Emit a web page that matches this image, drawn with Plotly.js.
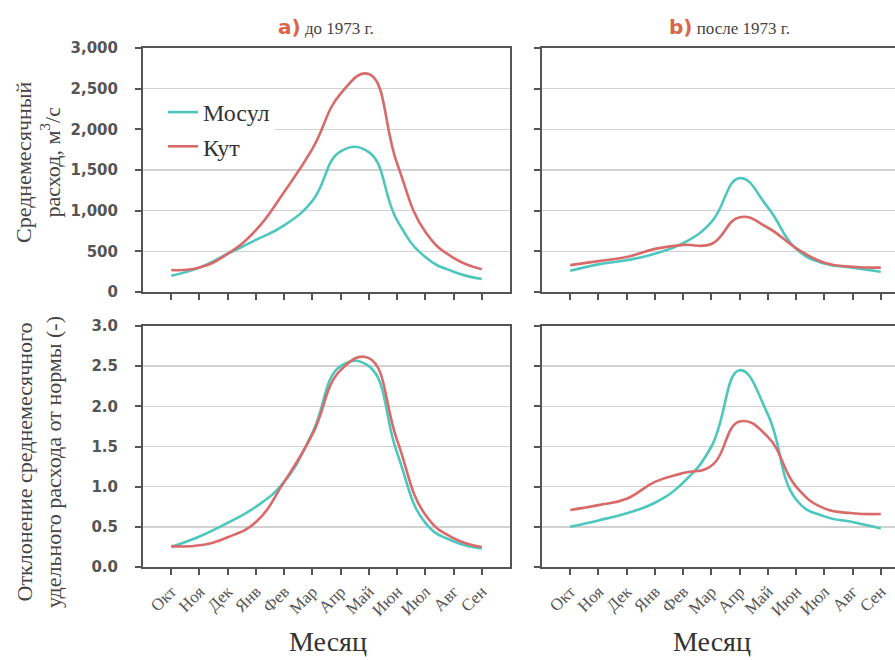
<!DOCTYPE html>
<html>
<head>
<meta charset="utf-8">
<script src="https://cdn.plot.ly/plotly-3.0.1.min.js"></script>
<style>
html, body { margin: 0; padding: 0; overflow: hidden; background: #fff; }
#chart { width: 895px; height: 660px; }
</style>
</head>
<body>
<div id="chart"></div>
<script>
// ---- data ----
const months = ['Окт','Ноя','Дек','Янв','Фев','Мар','Апр','Май','Июн','Июл','Авг','Сен'];
const seriesNames = ['Мосул', 'Кут'];

// a) до 1973 г. – среднемесячный расход, м3/с
const mosulFlowBefore = [200, 300, 470, 640, 820, 1120, 1730, 1720, 880, 430, 250, 160];
const kutFlowBefore   = [270, 300, 470, 760, 1230, 1760, 2440, 2680, 1580, 740, 420, 280];
// b) после 1973 г. – среднемесячный расход, м3/с
const mosulFlowAfter  = [260, 340, 390, 470, 600, 860, 1400, 1040, 530, 350, 300, 250];
const kutFlowAfter    = [330, 380, 430, 530, 580, 590, 920, 790, 540, 360, 310, 300];

// a) до 1973 г. – отклонение удельного расхода от нормы
const mosulDevBefore  = [0.25, 0.38, 0.55, 0.75, 1.06, 1.67, 2.50, 2.50, 1.42, 0.55, 0.32, 0.23];
const kutDevBefore    = [0.26, 0.27, 0.37, 0.56, 1.06, 1.65, 2.45, 2.60, 1.58, 0.65, 0.36, 0.25];
// b) после 1973 г. – отклонение удельного расхода от нормы
const mosulDevAfter   = [0.50, 0.58, 0.67, 0.80, 1.05, 1.50, 2.45, 1.90, 0.84, 0.63, 0.56, 0.48];
const kutDevAfter     = [0.71, 0.77, 0.85, 1.06, 1.17, 1.26, 1.81, 1.62, 1.00, 0.73, 0.67, 0.66];

const flowTicks = [0, 500, 1000, 1500, 2000, 2500, 3000];
const devTicks  = [0, 0.5, 1.0, 1.5, 2.0, 2.5, 3.0];

// ---- styles ----
const W = 895, H = 660;
const teal = '#4dc7be', red = '#d96a6a';
const frame = '#555555', grid = '#d2d2d2';
const serif = 'Liberation Serif, Times New Roman, serif';
const sans = 'DejaVu Sans, Verdana, sans-serif';

function line(x, y, name, color, xa, ya, showlegend) {
  return {
    type: 'scatter', mode: 'lines', x: x, y: y, name: name,
    xaxis: xa, yaxis: ya, showlegend: showlegend,
    line: { color: color, width: 2.6, shape: 'spline', smoothing: 1.3 },
    hoverinfo: 'x+y+name'
  };
}

const data = [
  line(months, mosulFlowBefore, seriesNames[0], teal, 'x',  'y',  true),
  line(months, kutFlowBefore,   seriesNames[1], red,  'x',  'y',  true),
  line(months, mosulFlowAfter,  seriesNames[0], teal, 'x2', 'y2', false),
  line(months, kutFlowAfter,    seriesNames[1], red,  'x2', 'y2', false),
  line(months, mosulDevBefore,  seriesNames[0], teal, 'x3', 'y3', false),
  line(months, kutDevBefore,    seriesNames[1], red,  'x3', 'y3', false),
  line(months, mosulDevAfter,   seriesNames[0], teal, 'x4', 'y4', false),
  line(months, kutDevAfter,     seriesNames[1], red,  'x4', 'y4', false)
];

// left panels span a full month range [-1, 12]; right panels are cut by the page edge
const step = (510 - 143) / 13;
const leftDom  = [143 / W, 510 / W];
const rightDom = [542 / W, 1];
const rightRange = [-1, -1 + (W - 542) / step];
const topDom   = [1 - 292 / H, 1 - 48 / H];
const botDom   = [1 - 567 / H, 1 - 326 / H];

function xAxis(dom, anchor, labels, range) {
  return {
    domain: dom, anchor: anchor, type: 'category',
    categoryorder: 'array', categoryarray: months,
    range: range, fixedrange: true,
    showline: true, linecolor: frame, linewidth: 2, mirror: true,
    ticks: 'outside', ticklen: 6, tickwidth: 2, tickcolor: frame,
    showgrid: false, zeroline: false,
    showticklabels: labels, tickangle: -45,
    tickfont: { family: serif, size: 17, color: '#555' }
  };
}
function yAxis(dom, anchor, range, ticks, fmt, labels, mirror) {
  return {
    domain: dom, anchor: anchor, range: range, tickvals: ticks,
    tickformat: fmt, fixedrange: true,
    showline: true, linecolor: frame, linewidth: 2, mirror: mirror,
    ticks: 'outside', ticklen: 6, tickwidth: 2, tickcolor: frame,
    showgrid: true, gridcolor: grid, gridwidth: 1.5, zeroline: false,
    showticklabels: labels, ticklabelstandoff: 14,
    tickfont: { family: sans, size: 15, color: '#555', weight: 'bold' }
  };
}

const titleSpan = (letter) =>
  '<span style="font-family:DejaVu Sans;font-weight:bold;font-size:20px;fill:#d9654b">' + letter + '</span>';

const layout = {
  width: W, height: H,
  margin: { l: 0, r: 0, t: 0, b: 0 },
  paper_bgcolor: '#fff', plot_bgcolor: '#fff',
  showlegend: true,
  legend: {
    x: 144 / W, y: 1 - 90 / H, xanchor: 'left', yanchor: 'top',
    bgcolor: '#fff', borderwidth: 0, indentation: 19,
    font: { family: serif, size: 24, color: '#333' }
  },
  xaxis:  xAxis(leftDom,  'y',  false, [-1, 12]),
  yaxis:  yAxis(topDom,   'x',  [0, 3000], flowTicks, ',', true, true),
  xaxis2: xAxis(rightDom, 'y2', false, rightRange),
  yaxis2: yAxis(topDom,   'x2', [0, 3000], flowTicks, ',', false, false),
  xaxis3: xAxis(leftDom,  'y3', true, [-1, 12]),
  yaxis3: yAxis(botDom,   'x3', [0, 3], devTicks, '.1f', true, true),
  xaxis4: xAxis(rightDom, 'y4', true, rightRange),
  yaxis4: yAxis(botDom,   'x4', [0, 3], devTicks, '.1f', false, false),
  annotations: [
    { xref: 'paper', yref: 'paper', x: 326 / W, y: 1 - 27 / H, xanchor: 'center', yanchor: 'middle',
      showarrow: false, text: titleSpan('a)') + ' до 1973 г.',
      font: { family: serif, size: 17, color: '#444' } },
    { xref: 'paper', yref: 'paper', x: 729 / W, y: 1 - 27 / H, xanchor: 'center', yanchor: 'middle',
      showarrow: false, text: titleSpan('b)') + ' после 1973 г.',
      font: { family: serif, size: 17, color: '#444' } },
    { xref: 'paper', yref: 'paper', x: 38 / W, y: 1 - 162 / H, xanchor: 'center', yanchor: 'middle',
      showarrow: false, textangle: -90,
      text: 'Среднемесячный<br>расход, м<sup>3</sup>/с',
      font: { family: serif, size: 22, color: '#444' } },
    { xref: 'paper', yref: 'paper', x: 39 / W, y: 1 - 462 / H, xanchor: 'center', yanchor: 'middle',
      showarrow: false, textangle: -90,
      text: 'Отклонение среднемесячного<br>удельного расхода от нормы (-)',
      font: { family: serif, size: 22, color: '#444' } },
    { xref: 'paper', yref: 'paper', x: 328 / W, y: 1 - 641 / H, xanchor: 'center', yanchor: 'middle',
      showarrow: false, text: 'Месяц',
      font: { family: serif, size: 28, color: '#333' } },
    { xref: 'paper', yref: 'paper', x: 712 / W, y: 1 - 641 / H, xanchor: 'center', yanchor: 'middle',
      showarrow: false, text: 'Месяц',
      font: { family: serif, size: 28, color: '#333' } }
  ]
};

Plotly.newPlot('chart', data, layout, { displayModeBar: false, staticPlot: true });
</script>
</body>
</html>
